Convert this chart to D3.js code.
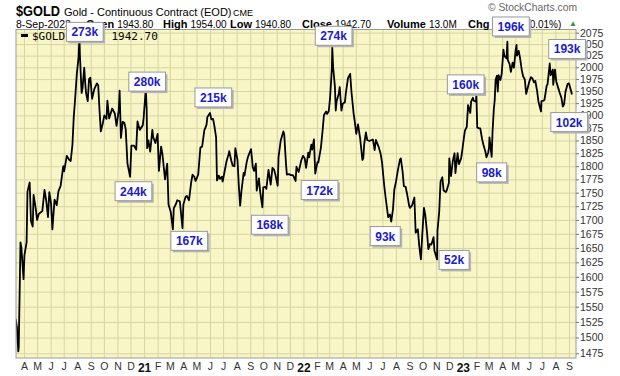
<!DOCTYPE html>
<html>
<head>
<meta charset="utf-8">
<script src="https://cdn.jsdelivr.net/npm/d3@7"></script>
<style>
  body { margin: 0; background: #fff; }
</style>
</head>
<body>
<div id="chart"></div>
<script>
// ---- data ----
const closeDates = [
  "2020-03-13","2020-03-16","2020-03-19","2020-03-20","2020-03-24","2020-03-26","2020-03-31","2020-04-02","2020-04-07","2020-04-09",
  "2020-04-14","2020-04-17","2020-04-21","2020-04-23","2020-04-28","2020-05-01","2020-05-05","2020-05-08","2020-05-13","2020-05-18",
  "2020-05-22","2020-05-26","2020-05-29","2020-06-02","2020-06-05","2020-06-10","2020-06-15","2020-06-19","2020-06-24","2020-06-30",
  "2020-07-02","2020-07-08","2020-07-13","2020-07-17","2020-07-21","2020-07-24","2020-07-27","2020-07-31","2020-08-04","2020-08-06",
  "2020-08-07","2020-08-11","2020-08-13","2020-08-17","2020-08-19","2020-08-21","2020-08-25","2020-08-28","2020-08-31","2020-09-04",
  "2020-09-09","2020-09-15","2020-09-18","2020-09-21","2020-09-24","2020-09-28","2020-10-02","2020-10-07","2020-10-09","2020-10-13",
  "2020-10-20","2020-10-26","2020-10-30","2020-11-04","2020-11-06","2020-11-09","2020-11-13","2020-11-17","2020-11-20","2020-11-24",
  "2020-11-30","2020-12-03","2020-12-09","2020-12-14","2020-12-17","2020-12-22","2020-12-29","2020-12-31",
  "2021-01-05","2021-01-07","2021-01-08","2021-01-11","2021-01-15","2021-01-20","2021-01-22","2021-01-27","2021-02-01","2021-02-04",
  "2021-02-09","2021-02-12","2021-02-18","2021-02-23","2021-02-26","2021-03-03","2021-03-08","2021-03-10","2021-03-15","2021-03-18",
  "2021-03-24","2021-03-30","2021-04-01","2021-04-06","2021-04-09","2021-04-14","2021-04-19","2021-04-22","2021-04-26","2021-04-29",
  "2021-05-05","2021-05-10","2021-05-14","2021-05-19","2021-05-24","2021-05-26","2021-06-01","2021-06-04","2021-06-08","2021-06-11",
  "2021-06-15","2021-06-17","2021-06-21","2021-06-24","2021-06-28","2021-06-30","2021-07-06","2021-07-09","2021-07-14","2021-07-15",
  "2021-07-20","2021-07-23","2021-07-27","2021-07-29","2021-08-03","2021-08-06","2021-08-09","2021-08-12","2021-08-17","2021-08-19",
  "2021-08-24","2021-08-27","2021-09-03","2021-09-07","2021-09-10","2021-09-14","2021-09-16","2021-09-21","2021-09-24","2021-09-29",
  "2021-10-01","2021-10-06","2021-10-08","2021-10-13","2021-10-18","2021-10-22","2021-10-26","2021-10-29","2021-11-03","2021-11-05",
  "2021-11-10","2021-11-16","2021-11-18","2021-11-22","2021-11-24","2021-11-29","2021-12-03","2021-12-08","2021-12-14","2021-12-16",
  "2021-12-21","2021-12-27","2021-12-31",
  "2022-01-04","2022-01-07","2022-01-12","2022-01-14","2022-01-19","2022-01-21","2022-01-25","2022-01-28","2022-02-02","2022-02-04",
  "2022-02-10","2022-02-14","2022-02-17","2022-02-22","2022-02-24","2022-02-28","2022-03-03","2022-03-07","2022-03-08","2022-03-10",
  "2022-03-14","2022-03-16","2022-03-18","2022-03-23","2022-03-25","2022-03-29","2022-04-01","2022-04-06","2022-04-08","2022-04-13",
  "2022-04-18","2022-04-21","2022-04-26","2022-04-28","2022-05-02","2022-05-06","2022-05-11","2022-05-16","2022-05-18","2022-05-20",
  "2022-05-24","2022-05-27","2022-06-01","2022-06-03","2022-06-09","2022-06-13","2022-06-16","2022-06-22","2022-06-27","2022-06-30",
  "2022-07-05","2022-07-08","2022-07-14","2022-07-18","2022-07-21","2022-07-25","2022-07-28","2022-08-01","2022-08-05","2022-08-10",
  "2022-08-12","2022-08-16","2022-08-19","2022-08-23","2022-08-26","2022-08-31","2022-09-02","2022-09-07","2022-09-12","2022-09-15",
  "2022-09-20","2022-09-23","2022-09-27","2022-09-30","2022-10-04","2022-10-07","2022-10-11","2022-10-14","2022-10-18","2022-10-21",
  "2022-10-26","2022-10-28","2022-11-03","2022-11-04","2022-11-08","2022-11-10","2022-11-11","2022-11-15","2022-11-18","2022-11-23",
  "2022-11-25","2022-11-30","2022-12-01","2022-12-05","2022-12-09","2022-12-13","2022-12-15","2022-12-20","2022-12-23","2022-12-28",
  "2022-12-30",
  "2023-01-04","2023-01-06","2023-01-10","2023-01-13","2023-01-18","2023-01-20","2023-01-24","2023-01-26","2023-01-31","2023-02-01",
  "2023-02-03","2023-02-07","2023-02-10","2023-02-14","2023-02-17","2023-02-22","2023-02-24","2023-02-28","2023-03-02","2023-03-03",
  "2023-03-08","2023-03-10","2023-03-13","2023-03-15","2023-03-17","2023-03-20","2023-03-22","2023-03-24","2023-03-28","2023-03-31",
  "2023-04-04","2023-04-06","2023-04-11","2023-04-13","2023-04-14","2023-04-18","2023-04-21","2023-04-25","2023-04-28","2023-05-02",
  "2023-05-04","2023-05-05","2023-05-09","2023-05-12","2023-05-16","2023-05-19","2023-05-23","2023-05-26","2023-05-30","2023-06-02",
  "2023-06-06","2023-06-09","2023-06-13","2023-06-16","2023-06-20","2023-06-23","2023-06-29","2023-06-30","2023-07-05","2023-07-07",
  "2023-07-12","2023-07-14","2023-07-19","2023-07-21","2023-07-26","2023-07-27","2023-07-31","2023-08-03","2023-08-08","2023-08-11",
  "2023-08-15","2023-08-18","2023-08-21","2023-08-24","2023-08-29","2023-09-01","2023-09-05","2023-09-08"
];
const closes = [
  1530,1516,1478,1485,1660,1651,1596,1637,1660,1752,
  1769,1698,1688,1746,1720,1700,1711,1713,1716,1755,
  1735,1705,1751,1730,1683,1737,1727,1753,1763,1800,
  1790,1820,1813,1810,1842,1897,1932,1986,2021,2069,
  2028,1946,1955,1999,1970,1947,1929,1975,1978,1934,
  1954,1966,1962,1910,1868,1882,1900,1893,1930,1894,
  1914,1904,1879,1910,1951,1855,1887,1885,1872,1805,
  1780,1840,1840,1832,1888,1871,1880,1895,
  1954,1913,1835,1850,1828,1871,1856,1845,1863,1791,
  1838,1824,1775,1805,1728,1715,1683,1721,1729,1736,
  1734,1685,1728,1742,1744,1736,1770,1784,1780,1772,
  1784,1836,1838,1870,1881,1897,1905,1892,1893,1879,
  1856,1773,1782,1776,1780,1771,1797,1810,1824,1829,
  1810,1801,1800,1835,1812,1763,1726,1753,1787,1782,
  1808,1818,1833,1798,1791,1805,1754,1777,1751,1723,
  1760,1761,1757,1793,1765,1797,1793,1783,1763,1818,
  1850,1868,1862,1805,1784,1785,1783,1783,1772,1799,
  1789,1811,1820,
  1815,1797,1826,1817,1842,1832,1852,1786,1808,1807,
  1836,1871,1901,1908,1903,1909,1936,1996,2043,2000,
  1960,1910,1929,1945,1958,1910,1924,1927,1945,1977,
  1986,1948,1903,1891,1863,1882,1853,1812,1815,1842,
  1866,1851,1849,1850,1852,1831,1851,1838,1823,1807,
  1763,1742,1705,1710,1697,1719,1755,1771,1791,1813,
  1815,1790,1762,1761,1749,1726,1722,1727,1741,1677,
  1683,1655,1630,1672,1722,1709,1677,1648,1657,1656,
  1669,1645,1630,1681,1716,1754,1771,1779,1754,1751,
  1754,1768,1815,1781,1810,1825,1787,1825,1804,1815,
  1826,
  1859,1870,1877,1921,1905,1928,1936,1930,1928,1942,
  1876,1874,1874,1853,1842,1827,1817,1826,1836,1856,
  1818,1867,1913,1931,1973,1982,1949,1983,1973,1986,
  2038,2025,2019,2055,2015,2007,1990,2010,1999,2037,
  2048,2025,2035,2020,1994,1981,1974,1944,1958,1969,
  1979,1977,1968,1971,1951,1929,1908,1929,1930,1932,
  1961,1964,2008,1983,1995,1963,1995,1970,1955,1946,
  1935,1918,1923,1948,1965,1966,1953,1943
];

// volume call-outs: anchor date, anchor price, text
const noteDates = ["2020-08-06","2021-01-05","2020-11-30","2021-03-08","2021-06-01","2021-09-29","2022-01-28","2022-03-08",
                   "2022-07-21","2022-11-03","2023-02-01","2023-03-08","2023-05-04","2023-07-19","2023-08-18"];
const notePrices = [2069,1954,1780,1683,1905,1723,1786,2043,1697,1630,1942,1818,2048,2008,1918];
const noteTexts = ["273k","280k","244k","167k","215k","168k","172k","274k","93k","52k","160k","98k","196k","193k","102k"];
// box offset from its anchor, in pixels
const noteShift = [[-13,-13],[-17,-17],[-15,5],[-2,2],[-15,-25],[-11,8],[-14,7],[-17,-21],
                   [-21,5],[2,-9],[-29,-20],[-15,6],[-24,-28],[-1,-24],[-12,6]];

const priceTicks = [1475,1500,1525,1550,1575,1600,1625,1650,1675,1700,1725,1750,1775,1800,
                    1825,1850,1875,1900,1925,1950,1975,2000,2025,2050,2075];
const monthLabels = ["A","M","J","J","A","S","O","N","D",
                     "21","F","M","A","M","J","J","A","S","O","N","D",
                     "22","F","M","A","M","J","J","A","S","O","N","D",
                     "23","F","M","A","M","J","J","A","S"];
const quoteLabels = ["Open","High","Low","Close","Volume","Chg"];
const quoteValues = ["1943.80","1954.00","1940.80","1942.70","13.0M","+0.20 (+0.01%)"];

const COLORS = {
    bg: "#f8f6c6",
    grid: "#d8d5a4",
    border: "#9a9a9a",
    note: "#1c1cc8",
    axisText: "#333"
};

const W = 620, H = 376;
const plot = {left: 16, right: 576, top: 29.5, bottom: 358};
const parse = d3.timeParse("%Y-%m-%d");
const series = closeDates.map((d, i) => ({date: parse(d), close: closes[i]}));

const svg = d3.select("#chart").append("svg")
    .attr("width", W)
    .attr("height", H)
    .style("font-family", "Arial, 'Liberation Sans', sans-serif");

svg.append("defs").append("clipPath").attr("id", "plotClip")
    .append("rect")
    .attr("x", plot.left).attr("y", plot.top)
    .attr("width", plot.right - plot.left)
    .attr("height", plot.bottom - plot.top);

// scales
let x = d3.scaleTime()
    .domain([parse("2020-03-19"), parse("2023-09-08")])
    .range([18.3, 572]);

let y = d3.scaleLog()
    .domain([1467.6, 2082])
    .range([plot.bottom, plot.top]);

// plot background
svg.append("rect")
    .attr("x", plot.left).attr("y", plot.top)
    .attr("width", plot.right - plot.left)
    .attr("height", plot.bottom - plot.top)
    .attr("fill", COLORS.bg);

// horizontal grid
let hGrid = svg.append("g")
    .attr("transform", "translate(" + plot.left + ",0)")
    .call(d3.axisRight(y).tickValues(priceTicks).tickSize(plot.right - plot.left).tickFormat(""));
hGrid.select(".domain").remove();
hGrid.selectAll("line").attr("stroke", COLORS.grid);

// vertical grid + month labels
const months = d3.timeMonth.range(new Date(2020, 3, 1), new Date(2023, 9, 1));
let xAxis = svg.append("g")
    .attr("transform", "translate(0," + plot.bottom + ")")
    .call(d3.axisBottom(x)
        .tickValues(months)
        .tickSize(-(plot.bottom - plot.top))
        .tickPadding(5)
        .tickFormat((d, i) => monthLabels[i]));
xAxis.select(".domain").remove();
xAxis.selectAll("line").attr("stroke", COLORS.grid);
xAxis.selectAll("text")
    .style("font-size", "10.5px")
    .style("fill", COLORS.axisText)
    .filter(d => d.getMonth() === 0)
    .style("font-weight", "bold")
    .style("font-size", "12px")
    .style("fill", "#111");

// price line
svg.append("path")
    .datum(series)
    .attr("clip-path", "url(#plotClip)")
    .attr("fill", "none")
    .attr("stroke", "#000")
    .attr("stroke-width", 1.8)
    .attr("stroke-linejoin", "round")
    .attr("d", d3.line().x(d => x(d.date)).y(d => y(d.close)));

// frame
svg.append("rect")
    .attr("x", plot.left).attr("y", plot.top)
    .attr("width", plot.right - plot.left)
    .attr("height", plot.bottom - plot.top)
    .attr("fill", "none")
    .attr("stroke", COLORS.border);

// right price axis
let yAxis = svg.append("g")
    .attr("transform", "translate(" + plot.right + ",0)")
    .call(d3.axisRight(y).tickValues(priceTicks).tickSize(3).tickPadding(1).tickFormat(d3.format("d")));
yAxis.select(".domain").remove();
yAxis.selectAll("line").attr("stroke", "#777");
yAxis.selectAll("text")
    .style("font-size", "10.5px")
    .style("fill", COLORS.axisText);

// legend inside the plot
svg.append("line")
    .attr("x1", 21).attr("x2", 28).attr("y1", 35.5).attr("y2", 35.5)
    .attr("stroke", "#000").attr("stroke-width", 3);
svg.append("text")
    .attr("x", 32).attr("y", 39.5)
    .style("font-family", "'DejaVu Sans Mono', monospace")
    .style("font-size", "11px")
    .text("$GOLD (EOD) " + quoteValues[3]);

// header
svg.append("text")
    .attr("x", 16).attr("y", 16)
    .attr("textLength", 44).attr("lengthAdjust", "spacingAndGlyphs")
    .style("font-size", "15px").style("font-weight", "bold")
    .text("$GOLD");
svg.append("text")
    .attr("x", 64).attr("y", 16)
    .style("font-size", "11px")
    .text("Gold - Continuous Contract (EOD)");
svg.append("text")
    .attr("x", 233).attr("y", 16)
    .style("font-size", "9px")
    .text("CME");
svg.append("text")
    .attr("x", 488).attr("y", 10.5)
    .attr("textLength", 89).attr("lengthAdjust", "spacingAndGlyphs")
    .style("font-size", "10.5px").style("fill", "#666")
    .text("\u00A9 StockCharts.com");

let quote = svg.append("text")
    .attr("x", 16).attr("y", 27.5)
    .style("font-size", "10.5px");
quote.append("tspan").text("8-Sep-2023");
const quoteX = [86, 163, 230, 302, 387, 468];
quoteLabels.forEach(function (lab, i) {
    quote.append("tspan").attr("x", quoteX[i])
        .style("font-weight", "bold").style("font-size", "11px")
        .text(lab);
    quote.append("tspan").attr("dx", 3)
        .style("font-size", "10px")
        .text(quoteValues[i]);
});
svg.append("text")
    .attr("x", 569).attr("y", 26)
    .style("font-size", "8px").style("fill", "#2a9a2a")
    .text("\u25B2");

// volume call-out boxes
const notes = noteTexts.map((t, i) => ({
    text: t, date: parse(noteDates[i]), price: notePrices[i], shift: noteShift[i]
}));
let note = svg.selectAll("g.note")
    .data(notes)
    .enter().append("g")
    .attr("class", "note")
    .attr("transform", d => "translate(" + (x(d.date) + d.shift[0]) + "," + (y(d.price) + d.shift[1]) + ")");

note.append("text")
    .attr("x", 5).attr("y", 14)
    .style("font-size", "12px").style("font-weight", "bold")
    .style("fill", COLORS.note)
    .text(d => d.text)
    .each(function (d) { d.w = this.getComputedTextLength() + 10; });

note.insert("rect", "text")
    .attr("x", 2).attr("y", 2)
    .attr("width", d => d.w).attr("height", 19)
    .attr("fill", "#b5b5b5");
note.insert("rect", "text")
    .attr("x", 0).attr("y", 0)
    .attr("width", d => d.w).attr("height", 19)
    .attr("fill", "#fff")
    .attr("stroke", "#999")
    .attr("stroke-width", 1);
</script>
</body>
</html>
